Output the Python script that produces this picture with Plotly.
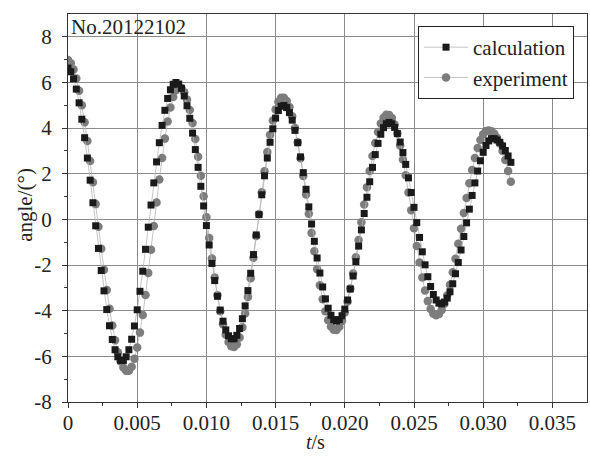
import plotly.graph_objects as go

# time step 0.2 ms, 161 samples from 0 to 0.032 s
n_samples = 161
dt = 0.0002
t = [round(i * dt, 6) for i in range(n_samples)]

calculation = [
    6.63, 6.47, 6.16, 5.71, 5.11, 4.39, 3.58, 2.69, 1.72, 0.73,
    -0.28, -1.27, -2.24, -3.13, -3.95, -4.66, -5.26, -5.71, -6.02, -6.18,
    -6.18, -6.02, -5.71, -5.25, -4.67, -3.96, -3.15, -2.27, -1.31, -0.34,
    0.63, 1.60, 2.52, 3.36, 4.12, 4.78, 5.30, 5.68, 5.92, 6.00,
    5.93, 5.74, 5.41, 4.98, 4.43, 3.78, 3.06, 2.28, 1.45, 0.59,
    -0.27, -1.12, -1.93, -2.68, -3.37, -3.97, -4.46, -4.84, -5.10, -5.23,
    -5.23, -5.08, -4.78, -4.35, -3.79, -3.12, -2.36, -1.54, -0.68, 0.21,
    1.08, 1.91, 2.69, 3.38, 3.97, 4.44, 4.77, 4.96,
    4.99, 4.90, 4.68, 4.35, 3.90, 3.36, 2.74, 2.05, 1.32, 0.55,
    -0.20, -0.96, -1.69, -2.35, -2.96, -3.48, -3.89, -4.20, -4.39, -4.45,
    -4.39, -4.22, -3.93, -3.53, -3.05, -2.48, -1.85, -1.17, -0.46, 0.26,
    0.97, 1.65, 2.28, 2.84, 3.33, 3.73, 4.02, 4.19, 4.25,
    4.19, 4.03, 3.76, 3.39, 2.93, 2.41, 1.82, 1.18, 0.53, -0.14,
    -0.79, -1.42, -1.99, -2.51, -2.94, -3.29, -3.53, -3.67,
    -3.70, -3.62, -3.45, -3.17, -2.82, -2.38, -1.89, -1.34, -0.75, -0.15,
    0.45, 1.05, 1.60, 2.12, 2.57, 2.94, 3.24, 3.44, 3.54,
    3.54, 3.48, 3.38, 3.22, 3.02, 2.78, 2.50,
]

experiment = [
    6.98, 6.84, 6.57, 6.17, 5.64, 5.00, 4.26, 3.44, 2.56, 1.63,
    0.67, -0.32, -1.28, -2.21, -3.09, -3.91, -4.65, -5.29, -5.82, -6.22,
    -6.49, -6.63,
    -6.63, -6.46, -6.11, -5.61, -4.96, -4.19, -3.31, -2.35, -1.33, -0.29,
    0.74, 1.75, 2.69, 3.54, 4.29, 4.90, 5.36, 5.66, 5.79,
    5.76, 5.57, 5.25, 4.79, 4.22, 3.52, 2.75, 1.91, 1.01, 0.10,
    -0.81, -1.71, -2.55, -3.32, -4.02, -4.59, -5.05, -5.37, -5.56,
    -5.59, -5.47, -5.17, -4.72, -4.12, -3.40, -2.58, -1.68, -0.73, 0.24,
    1.19, 2.11, 2.95, 3.71, 4.33, 4.82, 5.16, 5.33,
    5.33, 5.19, 4.92, 4.52, 4.00, 3.38, 2.68, 1.90, 1.09, 0.25,
    -0.59, -1.40, -2.18, -2.88, -3.50, -4.02, -4.42, -4.69, -4.83,
    -4.84, -4.70, -4.45, -4.08, -3.60, -3.03, -2.37, -1.66, -0.90, -0.12,
    0.65, 1.41, 2.12, 2.78, 3.35, 3.83, 4.20, 4.45, 4.59,
    4.58, 4.44, 4.16, 3.76, 3.24, 2.62, 1.93, 1.18, 0.40, -0.39,
    -1.16, -1.89, -2.55, -3.11, -3.58, -3.92, -4.13, -4.20,
    -4.14, -3.97, -3.70, -3.33, -2.86, -2.32, -1.72, -1.07, -0.41, 0.28,
    0.94, 1.58, 2.16, 2.69, 3.13, 3.48, 3.73, 3.87,
    3.90, 3.86, 3.75, 3.58, 3.33, 3.00, 2.60, 2.12, 1.65,
]

x_tickvals = [0, 0.005, 0.010, 0.015, 0.020, 0.025, 0.030, 0.035]
x_ticktext = ["0", "0.005", "0.010", "0.015", "0.020", "0.025", "0.030", "0.035"]
y_tickvals = [-8, -6, -4, -2, 0, 2, 4, 6, 8]
y_ticktext = ["-8", "-6", "-4", "-2", "0", "2", "4", "6", "8"]

FONT = "Liberation Serif"
TXT = "#222222"

fig = go.Figure()
fig.add_trace(go.Scatter(
    x=t[:len(experiment)], y=experiment, name="experiment", mode="lines+markers",
    line=dict(color="#b5b5b5", width=0.8),
    marker=dict(symbol="circle", size=8.5, color="#7d7d7d"),
    legendrank=2,
))
fig.add_trace(go.Scatter(
    x=t[:len(calculation)], y=calculation, name="calculation", mode="lines+markers",
    line=dict(color="#b5b5b5", width=0.8),
    marker=dict(symbol="square", size=7, color="#1a1a1a"),
    legendrank=1,
))

axis_common = dict(
    showline=True, linecolor="#333333", linewidth=1, mirror=True,
    showgrid=True, gridcolor="#8a8a8a", gridwidth=1,
    zeroline=False, ticks="outside", ticklen=5, tickcolor="#333333",
    tickfont=dict(family=FONT, size=21, color=TXT),
)

fig.update_xaxes(
    range=[0, 0.0375], tickvals=x_tickvals, ticktext=x_ticktext,
    ticklabelstandoff=-3,
    minor=dict(ticks="outside", ticklen=3,
               tickvals=[0.0025, 0.0075, 0.0125, 0.0175, 0.0225, 0.0275, 0.0325],
               tickcolor="#333333", showgrid=False),
    **axis_common,
)
fig.update_yaxes(
    range=[-8, 9], tickvals=y_tickvals, ticktext=y_ticktext,
    ticklabelstandoff=6,
    minor=dict(ticks="outside", ticklen=3, tickvals=[-7, -5, -3, -1, 1, 3, 5, 7],
               tickcolor="#333333", showgrid=False),
    **axis_common,
)

fig.update_layout(
    width=590, height=457,
    margin=dict(l=68, r=3, t=14, b=55),
    paper_bgcolor="white", plot_bgcolor="white",
    font=dict(family=FONT, size=21, color=TXT),
    showlegend=True,
    legend=dict(
        x=0.975, y=0.969, xanchor="right", yanchor="top",
        bgcolor="white", bordercolor="#222222", borderwidth=1,
        font=dict(family=FONT, size=21, color=TXT),
        tracegroupgap=0, itemwidth=44,
    ),
    annotations=[
        dict(text="No.20122102", xref="paper", yref="paper", x=0.002, y=1.003,
             xanchor="left", yanchor="top", showarrow=False,
             font=dict(family=FONT, size=21, color=TXT)),
        dict(text="angle/(°)", xref="paper", yref="paper", x=-0.083, y=0.508,
             xanchor="center", yanchor="middle", textangle=-90, showarrow=False,
             font=dict(family=FONT, size=21, color=TXT)),
        dict(text="<i>t</i>/s", xref="paper", yref="paper", x=0.476, y=-0.104,
             xanchor="center", yanchor="middle", showarrow=False,
             font=dict(family=FONT, size=20, color=TXT)),
    ],
)

fig.write_html("out.html", config={"displayModeBar": False},
               post_script="document.body.style.margin='0px';")
